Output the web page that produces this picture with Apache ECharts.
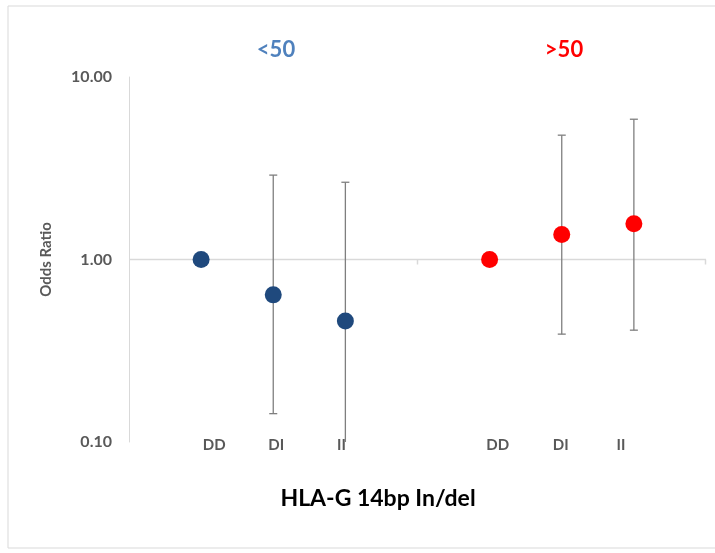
<!DOCTYPE html>
<html>
<head>
<meta charset="utf-8">
<script src="https://cdn.jsdelivr.net/npm/echarts@6/dist/echarts.min.js"></script>
<style>html,body{margin:0;padding:0;background:#fff}#c{width:715px;height:553px}</style>
</head>
<body>
<div id="c"></div>
<script>
// ---- data ----
const categories = ['DD', 'DI', 'II'];
const groups = ['<50', '>50'];
const orUnder50 = [1.00, 0.64, 0.46];
const lowUnder50 = [null, 0.143, 0.08];
const highUnder50 = [null, 2.90, 2.65];
const orOver50 = [1.00, 1.37, 1.57];
const lowOver50 = [null, 0.39, 0.41];
const highOver50 = [null, 4.80, 5.87];
const xTitle = 'HLA-G 14bp In/del';
const yTitle = 'Odds Ratio';

// axis slot of each category: group 0 -> 1..3, group 1 -> 5..7
const slot = (g, i) => g * 4 + i + 1;
const labelMap = {};
categories.forEach((c, i) => { labelMap[slot(0, i)] = c; labelMap[slot(1, i)] = c; });
// small horizontal nudges of the category labels (style only, px)
const labelNudge = { 1: 13, 2: 3, 3: -4, 5: 8, 6: -1, 7: -13 };

const pts0 = orUnder50.map((v, i) => [slot(0, i), v]);
const pts1 = orOver50.map((v, i) => [slot(1, i), v]);
const err = [];
[[lowUnder50, highUnder50, 0], [lowOver50, highOver50, 1]].forEach(([lo, hi, g]) => {
  lo.forEach((l, i) => { if (l != null) err.push([slot(g, i), l, hi[i]]); });
});

const FONT = 'Lato, "Open Sans", sans-serif';
const rich = {};
Object.keys(labelNudge).forEach(k => {
  const d = labelNudge[k];
  rich['n' + k] = { color: '#595959', fontSize: 15, fontWeight: 'bold', fontFamily: FONT,
    padding: d >= 0 ? [0, 0, 0, 2 * d] : [0, -2 * d, 0, 0] };
});

const chart = echarts.init(document.getElementById('c'), null, { renderer: 'canvas' });
chart.setOption({
  animation: false,
  backgroundColor: '#fff',
  grid: { left: 129, right: 9, top: 77, bottom: 111, containLabel: false },
  title: [
    { text: groups[0], left: 271, top: 34, textAlign: 'center',
      textStyle: { color: '#4F81BD', fontSize: 22, fontWeight: 'bold', fontFamily: FONT } },
    { text: groups[1], left: 559, top: 34, textAlign: 'center',
      textStyle: { color: '#FF0000', fontSize: 22, fontWeight: 'bold', fontFamily: FONT } }
  ],
  graphic: [
    { type: 'rect', shape: { x: 8, y: 6, width: 720, height: 542 }, silent: true,
      style: { fill: 'none', stroke: '#d9d9d9', lineWidth: 1 } },
    { type: 'text', x: 378, y: 499, style: { text: xTitle, fill: '#000', fontSize: 23,
      fontWeight: 'bold', fontFamily: FONT, align: 'center', verticalAlign: 'middle' } }
  ],
  xAxis: {
    type: 'value', min: 0, max: 8, interval: 1,
    axisLine: { show: false }, axisTick: { show: false }, splitLine: { show: false },
    axisLabel: {
      margin: -4, color: '#595959', fontSize: 15, fontWeight: 'bold', fontFamily: FONT,
      formatter: v => labelMap[v] ? '{n' + v + '|' + labelMap[v] + '}' : '',
      rich: rich, showMinLabel: true, showMaxLabel: true
    }
  },
  yAxis: {
    type: 'log', logBase: 10, min: 0.1, max: 10,
    name: yTitle, nameLocation: 'middle', nameRotate: 90, nameGap: 75,
    nameTextStyle: { color: '#595959', fontSize: 15, fontWeight: 'bold', fontFamily: FONT },
    axisLine: { show: true, lineStyle: { color: '#d9d9d9', width: 1 } },
    axisTick: { show: false }, splitLine: { show: false },
    axisLabel: { margin: 17, color: '#595959', fontSize: 16, fontWeight: 'bold', fontFamily: FONT,
      formatter: v => Number(v).toFixed(2) }
  },
  series: [
    { // horizontal axis line crossing at 1.00 with ticks every 4 slots
      type: 'custom', silent: true, z: 1, data: [[0, 1, 8]],
      renderItem: (params, api) => {
        const a = api.coord([api.value(0), api.value(1)]);
        const b = api.coord([api.value(2), api.value(1)]);
        const mid = api.coord([4, api.value(1)]);
        const st = { stroke: '#d9d9d9', lineWidth: 1.5 };
        return { type: 'group', children: [
          { type: 'line', shape: { x1: a[0], y1: a[1], x2: b[0], y2: b[1] }, style: st },
          { type: 'line', shape: { x1: mid[0], y1: mid[1], x2: mid[0], y2: mid[1] + 5 }, style: st },
          { type: 'line', shape: { x1: b[0] - 0.5, y1: b[1], x2: b[0] - 0.5, y2: b[1] + 5 }, style: st }
        ] };
      }
    },
    { // error bars
      type: 'custom', silent: true, z: 2, clip: true, data: err,
      renderItem: (params, api) => {
        const x = api.value(0);
        const lo = api.coord([x, api.value(1)]);
        const hi = api.coord([x, api.value(2)]);
        const w = 4;
        const st = { stroke: '#7f7f7f', lineWidth: 1.3 };
        return { type: 'group', children: [
          { type: 'line', shape: { x1: lo[0], y1: lo[1], x2: hi[0], y2: hi[1] }, style: st },
          { type: 'line', shape: { x1: hi[0] - w, y1: hi[1], x2: hi[0] + w, y2: hi[1] }, style: st },
          { type: 'line', shape: { x1: lo[0] - w, y1: lo[1], x2: lo[0] + w, y2: lo[1] }, style: st }
        ] };
      }
    },
    { type: 'scatter', z: 3, symbol: 'circle', symbolSize: 17, data: pts0,
      itemStyle: { color: '#1F497D', opacity: 1 } },
    { type: 'scatter', z: 3, symbol: 'circle', symbolSize: 17, data: pts1,
      itemStyle: { color: '#FF0000', opacity: 1 } }
  ]
});
</script>
</body>
</html>
